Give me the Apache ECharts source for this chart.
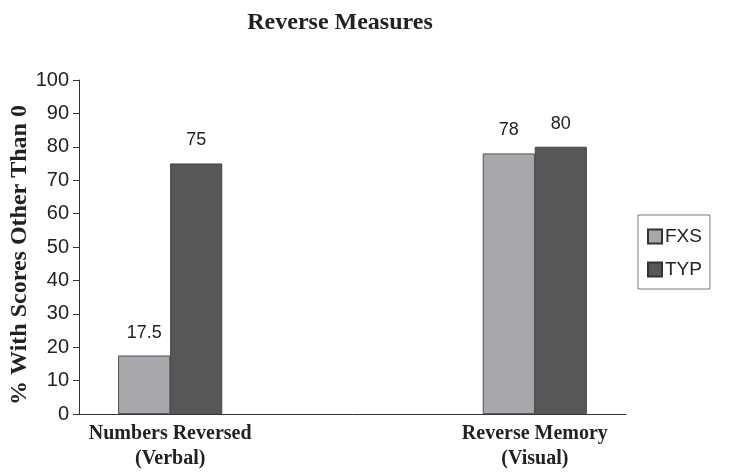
<!DOCTYPE html>
<html>
<head>
<meta charset="utf-8">
<script src="https://cdn.jsdelivr.net/npm/echarts@6/dist/echarts.min.js"></script>
<style>
html,body{margin:0;padding:0;background:#fff;}
#chart{width:729px;height:476px;}
</style>
</head>
<body>
<div id="chart"></div>
<script>
// data
const categories = ['Numbers Reversed\n(Verbal)', '', 'Reverse Memory\n(Visual)']
const fxsValues = [17.5, null, 78]
const typValues = [75, null, 80]
const yTicks = [0, 10, 20, 30, 40, 50, 60, 70, 80, 90, 100]

const chart = echarts.init(document.getElementById('chart'))

const labelStyle = {
  show: true,
  position: 'top',
  distance: 14,
  fontFamily: 'Liberation Sans',
  fontSize: 18,
  color: '#222'
}

const option = {
  animation: false,
  title: {
    text: 'Reverse Measures',
    left: 335,
    textAlign: 'center',
    top: 6,
    textStyle: {
      fontFamily: 'Liberation Serif',
      fontWeight: 'bold',
      fontSize: 24,
      color: '#222'
    }
  },
  legend: {
    data: ['FXS', 'TYP'],
    orient: 'vertical',
    left: 638,
    top: 215,
    padding: [12, 8, 10, 9],
    itemGap: 14,
    itemWidth: 14,
    itemHeight: 14,
    icon: 'rect',
    borderColor: '#777',
    borderWidth: 1,
    textStyle: {
      fontFamily: 'Liberation Sans',
      fontSize: 19,
      color: '#222',
      padding: [0, 0, 0, -2]
    }
  },
  grid: {
    left: 79,
    right: 103,
    top: 80,
    bottom: 62,
    outerBoundsMode: 'none'
  },
  xAxis: {
    type: 'category',
    data: categories,
    axisLine: { lineStyle: { color: '#333', width: 1 } },
    axisTick: { show: false },
    axisLabel: {
      interval: 0,
      margin: 7,
      fontFamily: 'Liberation Serif',
      fontWeight: 'bold',
      fontSize: 20,
      lineHeight: 25,
      color: '#222'
    }
  },
  yAxis: {
    type: 'value',
    min: yTicks[0],
    max: yTicks[yTicks.length - 1],
    interval: 10,
    name: '% With Scores Other Than 0',
    nameLocation: 'middle',
    nameGap: 47,
    nameMoveOverlap: false,
    nameTextStyle: {
      fontFamily: 'Liberation Serif',
      fontWeight: 'bold',
      fontSize: 24,
      color: '#222',
      padding: [0, 16, 0, 0]
    },
    axisLine: { show: true, lineStyle: { color: '#333', width: 1 } },
    axisTick: { show: true, length: 6, lineStyle: { color: '#333' } },
    splitLine: { show: false },
    axisLabel: {
      margin: 10,
      fontFamily: 'Liberation Sans',
      fontSize: 20,
      color: '#222'
    }
  },
  series: [
    {
      name: 'FXS',
      type: 'bar',
      data: fxsValues,
      barWidth: 52,
      barGap: '0%',
      itemStyle: { color: '#a6a8ab', borderColor: '#333', borderWidth: 0.8 },
      label: labelStyle
    },
    {
      name: 'TYP',
      type: 'bar',
      data: typValues,
      barWidth: 52,
      itemStyle: { color: '#555759', borderColor: '#333', borderWidth: 0.8 },
      label: labelStyle
    }
  ]
}

chart.setOption(option)
</script>
</body>
</html>
